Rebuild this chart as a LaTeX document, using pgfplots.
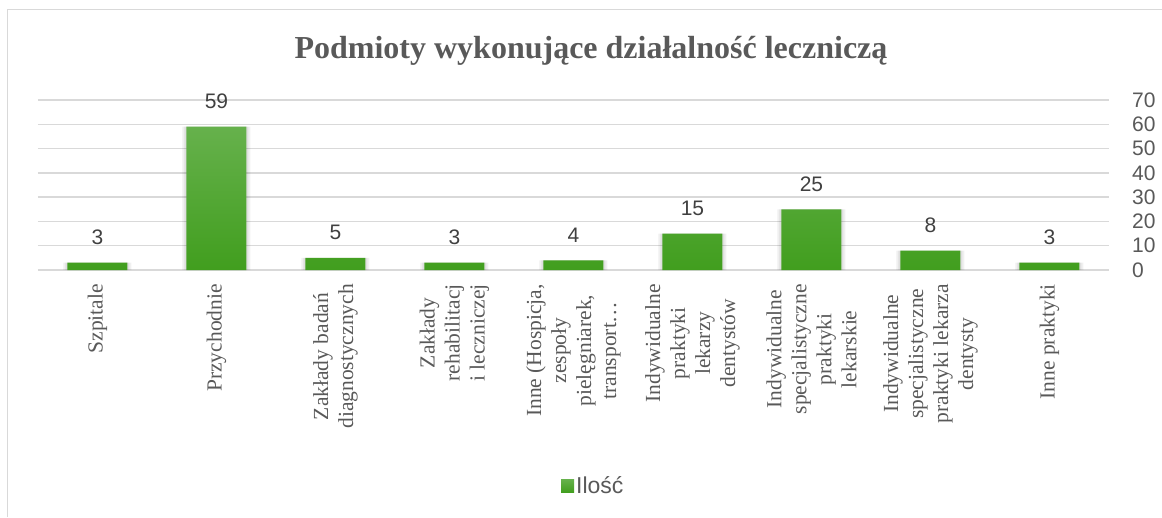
\documentclass[border=0pt]{standalone}
\usepackage{fontspec}
\usepackage{pgfplots}
\pgfplotsset{compat=1.18}
\setmainfont{Liberation Serif}
\newfontfamily\sansf{Liberation Sans}
\definecolor{gridgray}{HTML}{D9D9D9}
\definecolor{textgray}{HTML}{595959}
\definecolor{labelgray}{HTML}{404040}
\definecolor{barTop}{HTML}{66B14C}
\definecolor{barBot}{HTML}{419E1E}
\pgfplotstableread{
x y
0 3
1 59
2 5
3 3
4 4
5 15
6 25
7 8
8 3
}\datatable
\begin{document}
\begin{tikzpicture}[x=1pt,y=1pt]
\path[use as bounding box] (0,0) rectangle (1162,-517);
\draw[color=gridgray, line width=1.5pt] (7.5,-517) -- (7.5,-9.5) -- (1162,-9.5);
\node[anchor=base, font=\bfseries\fontsize{32}{32}\selectfont, text=textgray, inner sep=0pt] at (591,-58) {Podmioty wykonujące działalność leczniczą};
\begin{axis}[
  at={(38pt,-270pt)}, anchor=south west,
  scale only axis, width=1071pt, height=170pt,
  ybar, bar width=60pt, bar shift=0pt,
  xmin=-0.5, xmax=8.5, ymin=0, ymax=70,
  ytick={0,10,...,70},
  xtick={0,...,8},
  xticklabels={Szpitale, Przychodnie, {Zakłady badań\\diagnostycznych}, {Zakłady\\rehabilitacj\\i leczniczej}, {Inne (Hospicja,\\zespoły\\pielęgniarek,\\transport…}, {Indywidualne\\praktyki\\lekarzy\\dentystów}, {Indywidualne\\specjalistyczne\\praktyki\\lekarskie}, {Indywidualne\\specjalistyczne\\praktyki lekarza\\dentysty}, Inne praktyki},
  axis line style={draw=none},
  major tick length=0pt,
  ymajorgrids, grid style={color=gridgray, line width=1.5pt},
  yticklabel pos=right,
  /pgf/number format/assume math mode=true,
  yticklabel style={anchor=west, inner sep=0pt, xshift=23pt, font=\sansf\fontsize{21}{21}\selectfont, text=textgray},
  xticklabel style={rotate=90, anchor=east, align=center, inner sep=0pt, xshift=-14pt, font=\fontsize{21.5}{25}\selectfont, text=textgray},
  legend style={at={(axis description cs:0.4883,-1.27)}, anchor=west, draw=none, fill=none, inner sep=0pt, font=\sansf\fontsize{23}{23}\selectfont, text=textgray},
  legend image code/.code={\fill[#1] (0pt,-6.5pt) rectangle (13pt,6.5pt);},
  legend cell align=left,
]
\addplot[forget plot, draw=none, fill=black, fill opacity=0.06, bar width=68pt] table[x=x,y=y] {\datatable};
\addplot[forget plot, draw=none, fill=black, fill opacity=0.07, bar width=64pt] table[x=x,y=y] {\datatable};
\addplot[draw=none, top color=barTop, bottom color=barBot,
  nodes near coords,
  every node near coord/.append style={anchor=center, yshift=25pt, font=\sansf\fontsize{21}{21}\selectfont, text=labelgray}] table[x=x,y=y] {\datatable};
\addlegendentry{Ilość}
\end{axis}
\end{tikzpicture}
\end{document}
